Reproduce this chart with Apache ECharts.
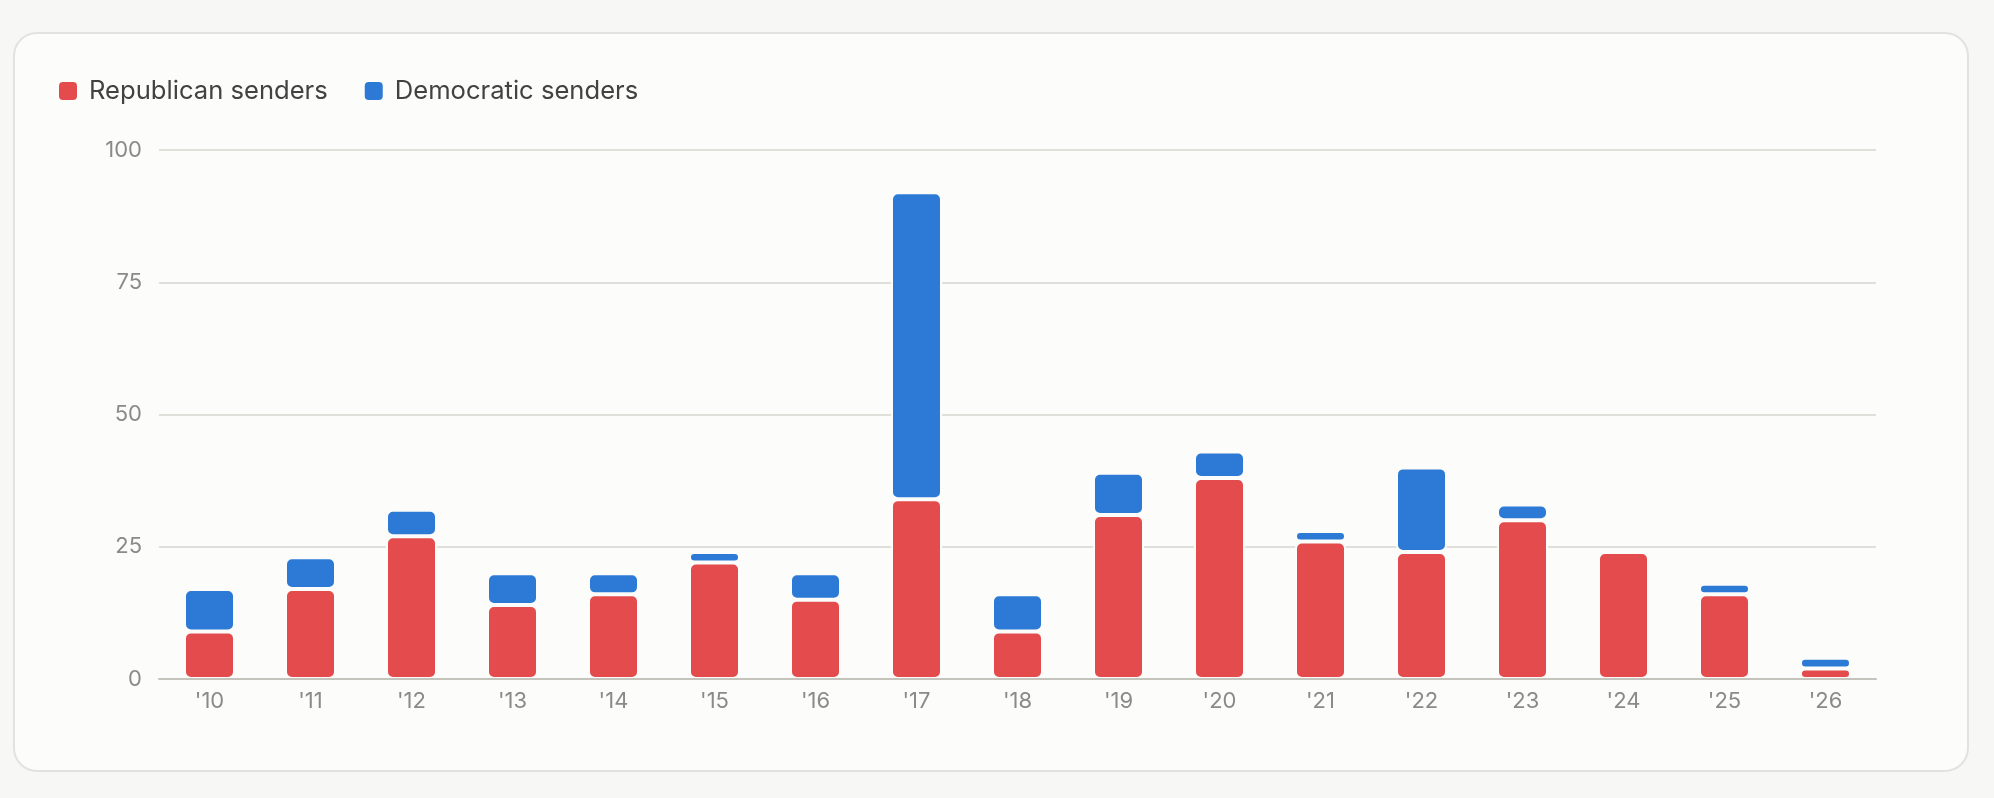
<!DOCTYPE html>
<html>
<head>
<meta charset="utf-8">
<title>Senders by year</title>
<script src="https://cdn.jsdelivr.net/npm/echarts@6/dist/echarts.min.js"></script>
<style>
    html, body {
        margin: 0;
        padding: 0;
        background: #f7f7f5;
    }
    #card {
        position: absolute;
        left: 13px;
        top: 32px;
        width: 1952px;
        height: 736px;
        border: 2px solid #e2e2df;
        border-radius: 24px;
        background: #fcfcfa;
    }
    #chart {
        position: absolute;
        left: 0;
        top: 0;
        width: 1994px;
        height: 798px;
    }
</style>
</head>
<body>
<div id="card"></div>
<div id="chart"></div>
<script>
    // 年份
    var years = ["'10", "'11", "'12", "'13", "'14", "'15", "'16", "'17", "'18",
        "'19", "'20", "'21", "'22", "'23", "'24", "'25", "'26"];
    // 共和党
    var republican = [9, 17, 27, 14, 16, 22, 15, 34, 9, 31, 38, 26, 24, 30, 24, 16, 2];
    // 民主党
    var democratic = [8, 6, 5, 6, 4, 2, 5, 58, 7, 8, 5, 2, 16, 3, 0, 2, 2];
    var yTicks = [0, 25, 50, 75, 100];

    var cardBg = '#fcfcfa';
    var fontFamily = 'Inter, "Noto Sans", sans-serif';

    var option = {
        backgroundColor: 'rgba(255,255,255,0)',
        animation: false,
        legend: {
            left: 52,
            top: 73,
            icon: 'roundRect',
            itemWidth: 20,
            itemHeight: 20,
            itemGap: 35,
            textStyle: {
                fontFamily: fontFamily,
                fontSize: 25.6,
                lineHeight: 20,
                color: '#424242',
                padding: [0, 0, 0, 6]
            },
            data: ['Republican senders', 'Democratic senders']
        },
        grid: {
            left: 159,
            right: 118,
            top: 150,
            bottom: 119
        },
        xAxis: {
            type: 'category',
            data: years,
            z: 3,
            axisLine: {
                lineStyle: {
                    color: '#c4c4bc',
                    width: 2
                }
            },
            axisTick: {
                show: false
            },
            axisLabel: {
                margin: 11,
                fontFamily: fontFamily,
                fontSize: 22,
                color: '#8a8a86'
            }
        },
        yAxis: {
            type: 'value',
            min: yTicks[0],
            max: yTicks[yTicks.length - 1],
            interval: yTicks[1] - yTicks[0],
            axisLine: {
                show: false
            },
            axisTick: {
                show: false
            },
            axisLabel: {
                margin: 17,
                fontFamily: fontFamily,
                fontSize: 22,
                color: '#8a8a86'
            },
            splitLine: {
                lineStyle: {
                    color: '#e0e0da',
                    width: 2
                }
            }
        },
        series: [{
            name: 'Republican senders',
            type: 'bar',
            stack: 'senders',
            barWidth: 51,
            data: republican,
            itemStyle: {
                color: '#e34b4c',
                borderColor: cardBg,
                borderWidth: 2,
                borderRadius: 6
            }
        }, {
            name: 'Democratic senders',
            type: 'bar',
            stack: 'senders',
            barWidth: 51,
            data: democratic,
            itemStyle: {
                color: '#2c7ad6',
                borderColor: cardBg,
                borderWidth: 2,
                borderRadius: 6
            }
        }]
    };

    var myChart = echarts.init(document.getElementById('chart'));
    myChart.setOption(option);
</script>
</body>
</html>
